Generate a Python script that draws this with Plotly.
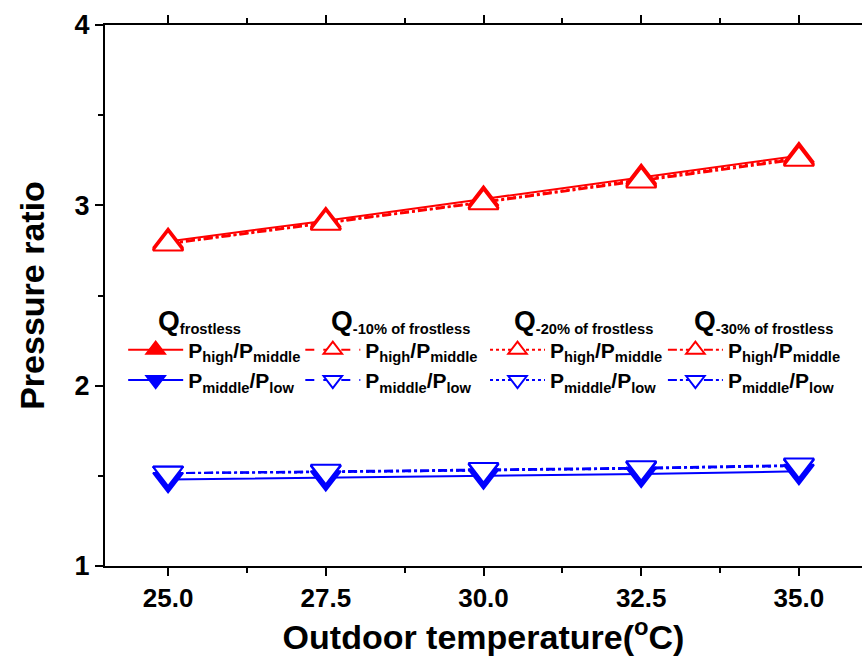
import plotly.graph_objects as go

temps = [25.0, 27.5, 30.0, 32.5, 35.0]

# Phigh / Pmiddle
hm_frostless = [2.800, 2.915, 3.035, 3.155, 3.275]
hm_10 = [2.790, 2.905, 3.020, 3.140, 3.260]
hm_20 = [2.790, 2.905, 3.020, 3.145, 3.265]
hm_30 = [2.785, 2.900, 3.015, 3.135, 3.255]

# Pmiddle / Plow
ml_frostless = [1.480, 1.490, 1.500, 1.510, 1.525]
ml_10 = [1.515, 1.520, 1.530, 1.540, 1.555]
ml_20 = [1.515, 1.520, 1.530, 1.540, 1.555]
ml_30 = [1.515, 1.525, 1.535, 1.545, 1.560]

headers = ["frostless", "-10% of frostless", "-20% of frostless", "-30% of frostless"]
header_x = [0.068, 0.296, 0.537, 0.775]
legend_x = [0.024, 0.258, 0.502, 0.737]
legend_names = ["legend", "legend2", "legend3", "legend4"]

FONT = "Liberation Sans Narrow, Arial Narrow, Liberation Sans, Arial"
RED = "#ff0000"
BLUE = "#0000ff"
HM = "<b>P<sub>high</sub>/P<sub>middle</sub></b>"
ML = "<b>P<sub>middle</sub>/P<sub>low</sub></b>"

fig = go.Figure()

groups = [
    (hm_frostless, ml_frostless, "solid", True),
    (hm_10, ml_10, "dash", False),
    (hm_20, ml_20, "dot", False),
    (hm_30, ml_30, "dashdot", False),
]

for i, (hm, ml, dash, filled) in enumerate(groups):
    for vals, col, sym, name in [(hm, RED, "triangle-up", HM), (ml, BLUE, "triangle-down", ML)]:
        fig.add_trace(go.Scatter(
            x=temps, y=vals, mode="lines+markers", name=name,
            legend=legend_names[i],
            line=dict(color=col, width=2, dash=dash),
            marker=dict(symbol=sym, size=26, color=col if filled else "white",
                        line=dict(color=col, width=2)),
        ))

for h, hx in zip(headers, header_x):
    fig.add_annotation(
        x=hx, y=0.452, xref="paper", yref="paper", xanchor="left", yanchor="middle",
        text="<b><span style='font-size:28px'>Q</span><sub>" + h + "</sub></b>", showarrow=False,
        font=dict(family=FONT, size=21, color="black"),
    )

legend_common = dict(
    orientation="v", y=0.437, xanchor="left", yanchor="top",
    itemwidth=55, font=dict(family=FONT, size=21, color="black"),
    bgcolor="rgba(0,0,0,0)", tracegroupgap=0, traceorder="normal",
)

layout_legends = {}
for name, lx in zip(legend_names, legend_x):
    layout_legends[name] = dict(x=lx, **legend_common)

fig.update_layout(
    width=862, height=658,
    margin=dict(l=105, r=0, t=25, b=92),
    plot_bgcolor="white", paper_bgcolor="white",
    font=dict(family=FONT, color="black"),
    showlegend=True,
    xaxis=dict(
        range=[24, 36], tick0=25, dtick=2.5, tickformat=".1f",
        ticks="outside", ticklen=8, tickwidth=2, tickcolor="black",
        showline=True, linecolor="black", linewidth=2, mirror="ticks",
        showgrid=False, zeroline=False,
        tickfont=dict(family=FONT, size=26, color="black", weight="bold"),
        minor=dict(dtick=1.25, tick0=25, ticks="outside", ticklen=5, tickwidth=2, tickcolor="black"),
        title=dict(text="<b>Outdoor temperature(<sup>o</sup>C)</b>",
                   font=dict(family=FONT, size=34, color="black"), standoff=4),
    ),
    yaxis=dict(
        range=[1, 4], tick0=1, dtick=1,
        ticks="outside", ticklen=8, tickwidth=2, tickcolor="black",
        showline=True, linecolor="black", linewidth=2, mirror=False,
        showgrid=False, zeroline=False,
        tickfont=dict(family=FONT, size=27, color="black", weight="bold"),
        minor=dict(dtick=0.5, tick0=1, ticks="outside", ticklen=5, tickwidth=2, tickcolor="black"),
        title=dict(text="<b>Pressure ratio</b>",
                   font=dict(family=FONT, size=34, color="black"), standoff=20),
    ),
    **layout_legends,
)

fig.write_html("out.html")
